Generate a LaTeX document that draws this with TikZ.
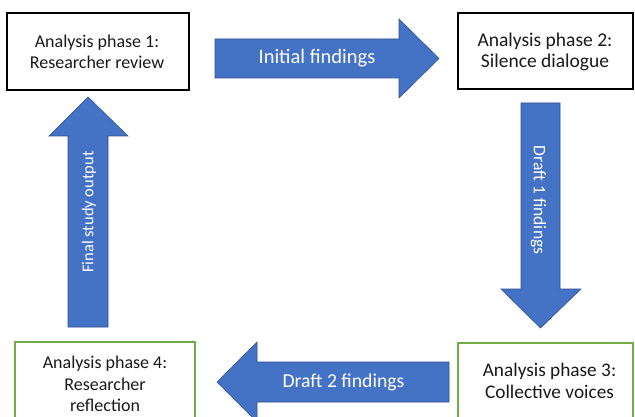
\documentclass[tikz,border=0pt]{standalone}
\usepackage{fontspec}
\setmainfont{Carlito}
\definecolor{ablue}{HTML}{4472C4}
\definecolor{ablueline}{HTML}{2F528F}
\definecolor{bgreen}{HTML}{70AD47}
\definecolor{tgray}{HTML}{1A1A1A}
\begin{document}
\begin{tikzpicture}[x=1pt,y=-1pt,
  phasebox/.style={draw=black,line width=1.4pt,fill=white,inner sep=0pt},
  greenbox/.style={phasebox,draw=bgreen},
  phasetext/.style={text=tgray,font=\fontsize{#1}{21.5}\selectfont,align=center,inner sep=0pt},
  blockarrow/.style={fill=ablue,draw=ablueline,line width=0.6pt,line join=miter},
  arrowtext/.style={text=white,font=\fontsize{#1}{22}\selectfont,inner sep=0pt}]
\useasboundingbox (0,0) rectangle (635,417);
\clip (0,0) rectangle (635,417);
\fill[white] (0,0) rectangle (635,417);
% boxes
\node[phasebox,minimum width=182pt,minimum height=77pt] (p1) at (98,51.5) {};
\node[phasetext=18] (t1) at (97,52) {Analysis phase 1:\\Researcher review};
\node[phasebox,minimum width=175pt,minimum height=76pt] (p2) at (545.5,51) {};
\node[phasetext=19.5] (t2) at (545,52) {Analysis phase 2:\\Silence dialogue};
\node[greenbox,minimum width=175pt,minimum height=86pt] (p3) at (545.5,386) {};
\node[phasetext=19.3] (t3) at (549.5,381) {Analysis phase 3:\\Collective voices};
\node[greenbox,minimum width=180pt,minimum height=86pt] (p4) at (105,385) {};
\node[phasetext=18] (t4) at (105,384) {Analysis phase 4:\\Researcher\\reflection};
% arrow 1: right
\path[blockarrow] (215,39) -- (399,39) -- (399,19) -- (439,58.5) -- (399,98) -- (399,78) -- (215,78) -- cycle;
\node[arrowtext=20.5] (a1) at (317,58.5) {Initial findings};
% arrow 2: down
\path[blockarrow] (521,103) -- (560,103) -- (560,289) -- (581,289) -- (540.5,328) -- (501,289) -- (521,289) -- cycle;
\node[arrowtext=17.6,rotate=-90] (a2) at (538.5,200) {Draft 1 findings};
% arrow 3: left
\path[blockarrow] (449,362) -- (449,402) -- (257,402) -- (257,422) -- (217,382) -- (257,342) -- (257,362) -- cycle;
\node[arrowtext=19.7] (a3) at (343.5,382.5) {Draft 2 findings};
% arrow 4: up
\path[blockarrow] (68,327) -- (68,136) -- (49,136) -- (88,97) -- (128,136) -- (108,136) -- (108,327) -- cycle;
\node[arrowtext=16.5,rotate=90] (a4) at (89,212) {Final study output};
\end{tikzpicture}
\end{document}
